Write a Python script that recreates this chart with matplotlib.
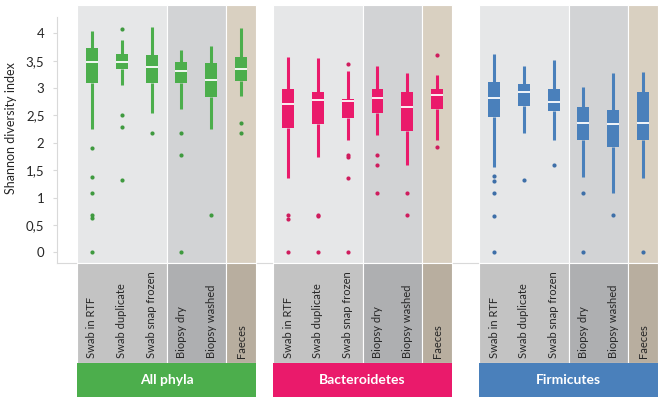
import matplotlib
matplotlib.use("Agg")
import matplotlib.pyplot as plt
from matplotlib.patches import Rectangle
import numpy as np

plt.rcParams['font.family'] = ['Lato', 'DejaVu Sans']

# sample types (same order in each group)
samples = ["Swab in RTF", "Swab duplicate", "Swab snap frozen",
           "Biopsy dry", "Biopsy washed", "Faeces"]
groups = ["All phyla", "Bacteroidetes", "Firmicutes"]
group_colors = ["#4cae4c", "#ea1a6b", "#4a80bb"]
flier_colors = ["#3f9a3f", "#cf1d5e", "#3e6fa8"]

# box stats, one list per group
all_q1 = [3.10, 3.34, 3.10, 3.09, 2.84, 3.13]
all_med = [3.47, 3.48, 3.39, 3.31, 3.15, 3.35]
all_q3 = [3.73, 3.62, 3.60, 3.47, 3.45, 3.56]
all_lo = [2.26, 3.06, 2.54, 2.61, 2.26, 2.86]
all_hi = [4.04, 3.88, 4.12, 3.69, 3.76, 4.09]
all_fl = [[1.90, 1.38, 1.08, 0.69, 0.63, 0.0],
          [4.08, 2.51, 2.28, 1.32],
          [2.18],
          [2.18, 1.77, 0.0],
          [0.68],
          [2.36, 2.17]]

bac_q1 = [2.27, 2.35, 2.45, 2.54, 2.21, 2.62]
bac_med = [2.70, 2.78, 2.76, 2.81, 2.65, 2.87]
bac_q3 = [2.98, 2.93, 2.80, 2.98, 2.92, 2.99]
bac_lo = [1.36, 1.74, 2.05, 2.15, 1.60, 2.05]
bac_hi = [3.56, 3.54, 3.32, 3.41, 3.27, 3.24]
bac_fl = [[0.69, 0.61, 0.0],
          [0.69, 0.67, 0.0],
          [3.44, 1.78, 1.74, 1.35, 0.0],
          [1.77, 1.60, 1.09],
          [1.09, 0.69],
          [3.60, 1.92]]

fir_q1 = [2.47, 2.68, 2.58, 2.05, 1.92, 2.05]
fir_med = [2.81, 2.93, 2.75, 2.37, 2.34, 2.37]
fir_q3 = [3.11, 3.07, 2.98, 2.65, 2.60, 2.93]
fir_lo = [1.56, 2.17, 2.05, 1.38, 1.09, 1.35]
fir_hi = [3.62, 3.41, 3.52, 3.02, 3.28, 3.29]
fir_fl = [[1.39, 1.30, 1.09, 0.66, 0.0],
          [1.32],
          [1.59],
          [1.09, 0.0],
          [0.68],
          [0.0]]

group_data = [(all_q1, all_med, all_q3, all_lo, all_hi, all_fl),
              (bac_q1, bac_med, bac_q3, bac_lo, bac_hi, bac_fl),
              (fir_q1, fir_med, fir_q3, fir_lo, fir_hi, fir_fl)]

yticks = np.arange(0, 4.01, 0.5)

# layout (x in box slots, y in data units)
group_offsets = [0.0, 6.58, 13.49]
plot_top, plot_bot = 4.517, -0.195
label_bot, band_bot = -2.02, -2.645
sec_bg = ["#e6e7e8", "#e6e7e8", "#e6e7e8", "#d2d3d5", "#d2d3d5", "#d9d0c1"]
sec_lab = ["#c3c3c3", "#c3c3c3", "#c3c3c3", "#aeafb1", "#aeafb1", "#b8ae9f"]

fig = plt.figure(figsize=(6.63, 4.04), dpi=100)
ax = fig.add_axes([0, 0, 1, 1])
ax.set_xlim(-3.087, 19.16)
ax.set_ylim(-2.771, 4.608)
ax.patch.set_visible(False)

for g, off in enumerate(group_offsets):
    # backgrounds: section spans
    spans = [(0, 3), (3, 5), (5, 6)]
    for a, b in spans:
        ax.add_patch(Rectangle((off + a - 0.5, plot_bot), b - a, plot_top - plot_bot,
                               facecolor=sec_bg[a], edgecolor="white", lw=0.8, zorder=0.5))
        ax.add_patch(Rectangle((off + a - 0.5, label_bot), b - a, plot_bot - label_bot,
                               facecolor=sec_lab[a], edgecolor="white", lw=0.8, zorder=0.5))
    ax.add_patch(Rectangle((off - 0.5, band_bot), 6, label_bot - band_bot,
                           facecolor=group_colors[g], edgecolor="none", zorder=0.6))
    ax.text(off + 2.5, (label_bot + band_bot) / 2, groups[g], color="white",
            fontsize=10, fontweight="bold", ha="center", va="center")

    q1, med, q3, lo, hi, fl = group_data[g]
    stats = [dict(q1=q1[i], med=med[i], q3=q3[i], whislo=lo[i], whishi=hi[i],
                  fliers=fl[i]) for i in range(len(samples))]
    pos = off + np.arange(len(samples))
    c = group_colors[g]
    ax.bxp(stats, positions=pos, widths=0.4, patch_artist=True, showcaps=False,
           boxprops=dict(facecolor=c, edgecolor="none"),
           whiskerprops=dict(color=c, linewidth=2.2, solid_capstyle="butt"),
           medianprops=dict(color="white", linewidth=1.3),
           flierprops=dict(marker="o", markersize=3, markerfacecolor=flier_colors[g],
                           markeredgecolor="none"),
           manage_ticks=False)

    for i, s in enumerate(samples):
        ax.text(pos[i], -1.93, s, rotation=90, ha="center", va="bottom",
                fontsize=8, color="#262626")

# axis styling
for side in ["top", "right"]:
    ax.spines[side].set_visible(False)
ax.spines["left"].set_position(("data", -1.175))
ax.spines["left"].set_bounds(plot_bot, 4.29)
ax.spines["bottom"].set_position(("data", plot_bot))
ax.spines["bottom"].set_bounds(-1.175, 19.0)
for side in ["left", "bottom"]:
    ax.spines[side].set_color("#d9d9d9")
    ax.spines[side].set_linewidth(0.8)
    ax.spines[side].set_zorder(0.2)
ax.set_xticks([])
ax.set_yticks(yticks)
ax.set_yticklabels([f"{v:g}".replace(".", ",") for v in yticks])
ax.tick_params(axis="y", direction="out", length=3, width=0.8, color="#d9d9d9",
               pad=6, labelsize=9.5, labelcolor="#262626")
ax.set_ylabel("Shannon diversity index", fontsize=9, color="#262626")
ax.yaxis.set_label_coords(0.025, 0.682)

fig.savefig("out.png", dpi=100)
